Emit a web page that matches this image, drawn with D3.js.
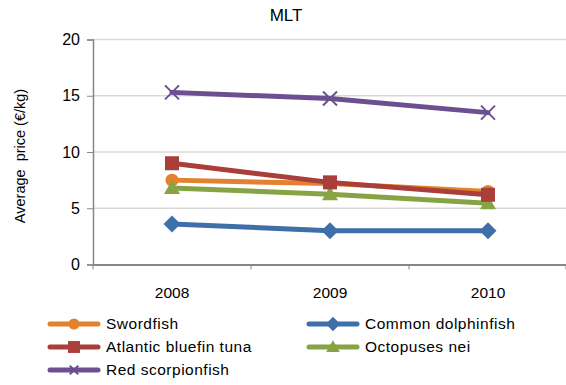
<!DOCTYPE html>
<html>
<head>
<meta charset="utf-8">
<script src="https://cdn.jsdelivr.net/npm/d3@7"></script>
<style>
  body { margin: 0; background: #fff; }
  text { font-family: "Liberation Sans", Arial, sans-serif; fill: #000; }
</style>
</head>
<body>
<div id="chart"></div>
<script>
// donnees
const years = ["2008", "2009", "2010"];
const yTicks = [0, 5, 10, 15, 20];
const swordfish = [7.5, 7.2, 6.5];
const dolphinfish = [3.6, 3.0, 3.0];
const bluefin = [9.0, 7.3, 6.2];
const octopuses = [6.8, 6.25, 5.45];
const scorpionfish = [15.3, 14.75, 13.5];

const series = [
  { name: "Swordfish", values: swordfish, color: "#E2822F", shape: "circle" },
  { name: "Common dolphinfish", values: dolphinfish, color: "#3F6FA9", shape: "diamond" },
  { name: "Atlantic bluefin tuna", values: bluefin, color: "#AA3E3B", shape: "square" },
  { name: "Octopuses nei", values: octopuses, color: "#87A445", shape: "triangle" },
  { name: "Red scorpionfish", values: scorpionfish, color: "#6C4F90", shape: "cross" }
];
// ordre de dessin (le dernier au dessus)
const drawOrder = [1, 0, 3, 2, 4];

const width = 566, height = 385;
const mLeft = 93, mRight = 567, mTop = 39.5, mBottom = 264.5;

const svg = d3.select("#chart").append("svg")
  .attr("width", width).attr("height", height);

const x = d3.scaleBand().domain(years).range([mLeft, mRight]);
const y = d3.scaleLinear().domain([0, 20]).range([mBottom, mTop]);

// grille
svg.append("g").selectAll("line")
  .data(yTicks.filter(d => d > 0))
  .enter().append("line")
  .attr("x1", mLeft).attr("x2", mRight)
  .attr("y1", d => y(d)).attr("y2", d => y(d))
  .attr("stroke", "#d9d9d9").attr("stroke-width", 1.5);

// axe y
const yAxis = svg.append("g")
  .attr("transform", "translate(" + mLeft + ",0)")
  .call(d3.axisLeft(y).tickValues(yTicks).tickSize(6).tickPadding(7));
yAxis.select(".domain").attr("stroke", "#868686").attr("stroke-width", 1.5);
yAxis.selectAll(".tick line").attr("stroke", "#868686");
yAxis.selectAll("text").style("font-size", "16px")
  .style("font-family", "Liberation Sans, Arial, sans-serif").attr("fill", "#000");

// axe x
const xAxis = svg.append("g")
  .attr("transform", "translate(0," + mBottom + ")")
  .call(d3.axisBottom(x).tickSize(0).tickPadding(22));
xAxis.select(".domain").attr("stroke", "#868686").attr("stroke-width", 2);
xAxis.selectAll("text").style("font-size", "15.5px")
  .style("font-family", "Liberation Sans, Arial, sans-serif").attr("fill", "#000");
// petites graduations entre les categories
svg.append("g").selectAll("line")
  .data(years.map(d => x(d)).concat([mRight - 1]))
  .enter().append("line")
  .attr("x1", d => d).attr("x2", d => d)
  .attr("y1", mBottom).attr("y2", mBottom + 5)
  .attr("stroke", "#868686").attr("stroke-width", 1);

// titre
svg.append("text")
  .attr("x", 286).attr("y", 21)
  .attr("text-anchor", "middle")
  .style("font-size", "17px")
  .text("MLT");

// titre axe y
svg.append("text")
  .attr("transform", "translate(25,156) rotate(-90)")
  .attr("text-anchor", "middle")
  .style("font-size", "14.5px")
  .style("white-space", "pre")
  .text("Average  price (€/kg)");

// marqueurs
function drawMarker(g, shape, color, cx, cy, s) {
  if (shape === "circle") {
    g.append("circle").attr("cx", cx).attr("cy", cy).attr("r", 6.5 * s).attr("fill", color);
  } else if (shape === "square") {
    g.append("rect").attr("x", cx - 7 * s).attr("y", cy - 7 * s)
      .attr("width", 14 * s).attr("height", 14 * s).attr("fill", color);
  } else if (shape === "diamond") {
    const r = 8.5 * s;
    g.append("path").attr("d", "M" + cx + "," + (cy - r) + "L" + (cx + r) + "," + cy +
      "L" + cx + "," + (cy + r) + "L" + (cx - r) + "," + cy + "Z").attr("fill", color);
  } else if (shape === "triangle") {
    const r = 8 * s;
    g.append("path").attr("d", "M" + cx + "," + (cy - r) + "L" + (cx + r) + "," + (cy + r * 0.75) +
      "L" + (cx - r) + "," + (cy + r * 0.75) + "Z").attr("fill", color);
  } else if (shape === "cross") {
    const r = 7 * s;
    g.append("path").attr("d", "M" + (cx - r) + "," + (cy - r) + "L" + (cx + r) + "," + (cy + r) +
      "M" + (cx - r) + "," + (cy + r) + "L" + (cx + r) + "," + (cy - r))
      .attr("stroke", color).attr("stroke-width", 2);
  }
}

const line = d3.line()
  .x((d, i) => x(years[i]) + x.bandwidth() / 2)
  .y(d => y(d));

drawOrder.forEach(function (k) {
  const s = series[k];
  const g = svg.append("g");
  g.append("path")
    .attr("d", line(s.values))
    .attr("fill", "none")
    .attr("stroke", s.color)
    .attr("stroke-width", 5)
    .attr("stroke-linecap", "round")
    .attr("stroke-linejoin", "round");
  s.values.forEach(function (v, i) {
    drawMarker(g, s.shape, s.color, x(years[i]) + x.bandwidth() / 2, y(v), 1);
  });
});

// ----------------- LEGENDE ----------------- //
const legendPos = [
  [48, 324], [307, 324], [48, 347], [307, 347], [48, 370]
];
series.forEach(function (s, i) {
  const p = legendPos[i];
  const g = svg.append("g");
  g.append("line")
    .attr("x1", p[0] + 2).attr("x2", p[0] + 50)
    .attr("y1", p[1]).attr("y2", p[1])
    .attr("stroke", s.color).attr("stroke-width", 5)
    .attr("stroke-linecap", "round");
  drawMarker(g, s.shape, s.color, p[0] + 26, p[1], s.shape === "cross" ? 0.6 : 0.85);
  g.append("text")
    .attr("x", p[0] + 58).attr("y", p[1])
    .attr("dy", "0.35em")
    .style("font-size", "15.5px")
    .style("letter-spacing", "0.5px")
    .text(s.name);
});
</script>
</body>
</html>
